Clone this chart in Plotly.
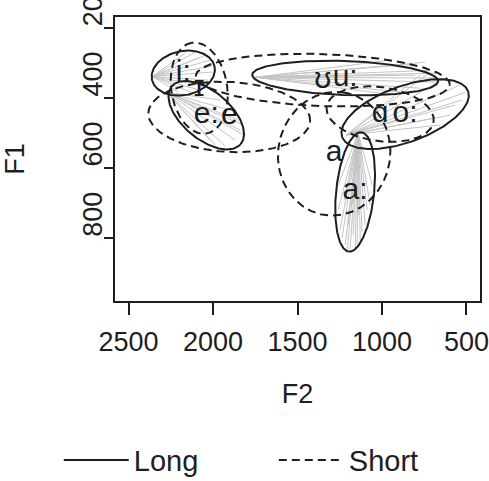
import numpy as np
import plotly.graph_objects as go

# ---------------- data (F2, F1 in Hz) ----------------
long_labels = ["i:", "e:", "u:", "o:", "a:"]
long_f2 = [2176, 2040, 1218, 863, 1159]
long_f1 = [330, 450, 344, 447, 669]

short_labels = ["ɪ", "e", "ʊ", "ɑ", "a"]
short_f2 = [2082, 1904, 1350, 1011, 1283]
short_f1 = [373, 455, 350, 447, 560]

# token trajectories of the long vowels (start point + end points)
traj_i_start = [2360, 340]
traj_i_f2 = [2017, 2005, 2046, 2105, 2076, 2135, 2028, 2005, 2165, 2206, 2088, 2040]
traj_i_f1 = [293, 310, 279, 270, 379, 384, 350, 327, 273, 384, 287, 367]

traj_e_start = [2277, 384]
traj_e_f2 = [1839, 1869, 1928, 1821, 1987, 1851, 1899, 2017, 1815, 1957]
traj_e_f1 = [493, 521, 538, 478, 535, 464, 436, 521, 507, 407]

traj_u_start = [1750, 342]
traj_u_f2 = [715, 686, 774, 833, 892, 745, 952, 1011, 673, 803, 656]
traj_u_f1 = [322, 344, 373, 305, 384, 299, 293, 387, 356, 336, 330]

traj_o_start = [1212, 507]
traj_o_f2 = [508, 538, 568, 627, 597, 715, 656, 774, 526, 686]
traj_o_f1 = [385, 364, 421, 344, 450, 327, 478, 336, 407, 458]

traj_a_start = [1141, 501]
traj_a_f2 = [1248, 1218, 1189, 1159, 1129, 1100, 1070, 1058, 1259, 1236,
             1200, 1171, 1141, 1118, 1088, 1224, 1271, 1177, 1147, 1206]
traj_a_f1 = [777, 820, 834, 829, 806, 763, 706, 649, 720, 800,
             763, 792, 735, 783, 720, 692, 664, 706, 820, 834]

x_ticks = [2500, 2000, 1500, 1000, 500]
y_ticks = [200, 400, 600, 800]

# ---------------- geometry / style ----------------
X_RANGE = [2580, 420]
Y_RANGE = [980, 170]
W, H = 489, 481
ML, MR, MT, MB = 115, 9, 17, 180
KX = (W - ML - MR) / abs(X_RANGE[0] - X_RANGE[1])   # px per Hz (F2)
KY = (H - MT - MB) / abs(Y_RANGE[0] - Y_RANGE[1])   # px per Hz (F1)

# ellipse spread: semi-major, semi-minor (screen px), orientation (deg)
long_shape = [(32, 22, 12), (45, 24, -40), (93, 17, -2), (67, 28, 20), (60, 19, 84)]
short_shape = [(46, 28, 99), (81, 35, -3), (127, 26, -2), (54, 27, -8), (62, 56, 80)]

INK = "#1e1e1e"
GREY = "#c4c4c4"
FONT = "Liberation Sans, Arial, sans-serif"


def ellipse(cx, cy, a, b, ang):
    t = np.linspace(0, 2 * np.pi, 241)
    th = np.deg2rad(ang)
    sx = a * np.cos(th) * np.cos(t) - b * np.sin(th) * np.sin(t)
    sy = a * np.sin(th) * np.cos(t) + b * np.cos(th) * np.sin(t)
    return cx - sx / KX, cy - sy / KY


fig = go.Figure()

# trajectories (grey)
gx, gy = [], []
for start, f2s, f1s in [(traj_i_start, traj_i_f2, traj_i_f1),
                        (traj_e_start, traj_e_f2, traj_e_f1),
                        (traj_u_start, traj_u_f2, traj_u_f1),
                        (traj_o_start, traj_o_f2, traj_o_f1),
                        (traj_a_start, traj_a_f2, traj_a_f1)]:
    for x2, y2 in zip(f2s, f1s):
        gx += [start[0], x2, None]
        gy += [start[1], y2, None]
fig.add_trace(go.Scatter(x=gx, y=gy, mode="lines", line=dict(color=GREY, width=1),
                         showlegend=False, hoverinfo="skip"))

# long ellipses (solid)
for i, (lab, cx, cy) in enumerate(zip(long_labels, long_f2, long_f1)):
    ex, ey = ellipse(cx, cy, *long_shape[i])
    fig.add_trace(go.Scatter(x=ex, y=ey, mode="lines", name="Long", legendgroup="Long",
                             showlegend=(i == 0), line=dict(color=INK, width=2)))

# short ellipses (dashed)
for i, (lab, cx, cy) in enumerate(zip(short_labels, short_f2, short_f1)):
    ex, ey = ellipse(cx, cy, *short_shape[i])
    fig.add_trace(go.Scatter(x=ex, y=ey, mode="lines", name="Short", legendgroup="Short",
                             showlegend=(i == 0), line=dict(color=INK, width=2, dash="8px,5px")))

# vowel labels
fig.add_trace(go.Scatter(x=long_f2 + short_f2, y=long_f1 + short_f1, mode="text",
                         text=long_labels + short_labels, showlegend=False,
                         textfont=dict(family=FONT, size=30, color=INK)))

fig.update_layout(
    template="none",
    width=W, height=H, margin=dict(l=ML, r=MR, t=MT, b=MB, autoexpand=False),
    paper_bgcolor="white", plot_bgcolor="white",
    font=dict(family=FONT, color=INK, size=27),
    legend=dict(orientation="h", x=-0.154, y=-0.56, xanchor="left", yanchor="middle",
                font=dict(size=29), bgcolor="rgba(0,0,0,0)", entrywidth=135,
                entrywidthmode="pixels", itemwidth=65),
)
fig.update_xaxes(range=X_RANGE, tickvals=x_ticks, ticks="outside", ticklen=12, tickwidth=1.5,
                 tickcolor=INK, showline=True, linecolor=INK, linewidth=1.5, mirror=True,
                 showgrid=False, zeroline=False, ticklabelstandoff=4, automargin=False,
                 ticklabeloverflow="allow",
                 tickfont=dict(size=27), title=dict(text="F2", standoff=28, font=dict(size=27)))
fig.update_yaxes(range=Y_RANGE, tickvals=y_ticks, ticks="outside", ticklen=9, tickwidth=1.5,
                 tickcolor=INK, showline=True, linecolor=INK, linewidth=1.5, mirror=True,
                 showgrid=False, zeroline=False, tickangle=-90, ticklabelposition="outside top",
                 ticklabeloverflow="allow", automargin=False,
                 tickfont=dict(size=27), title=dict(text="F1", standoff=62, font=dict(size=27)))

fig.write_html("out.html", config={"displayModeBar": False},
               post_script="document.body.style.margin='0';document.body.style.overflow='hidden';")
